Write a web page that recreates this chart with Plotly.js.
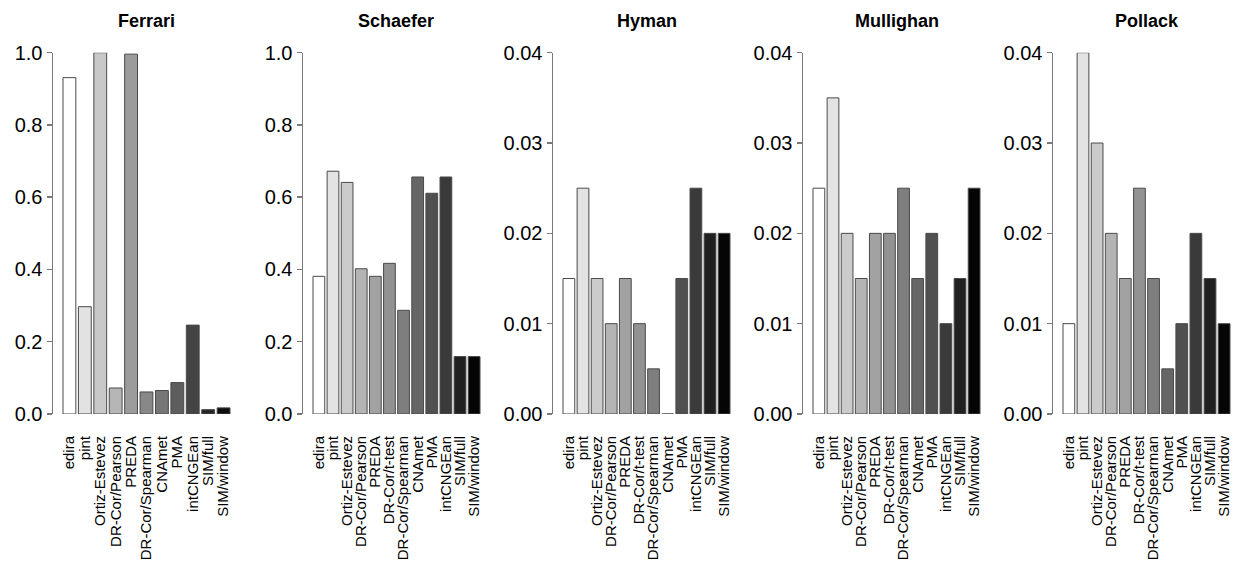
<!DOCTYPE html>
<html>
<head>
<meta charset="utf-8">
<script src="https://cdn.plot.ly/plotly-3.0.1.min.js"></script>
<style>html,body{margin:0;padding:0;background:#fff;}#chart{width:1237px;height:562px;}</style>
</head>
<body>
<div id="chart"></div>
<script>
// ---- Data ----
var methodsFerrari = ["edira", "pint", "Ortiz-Estevez", "DR-Cor/Pearson", "PREDA", "DR-Cor/Spearman", "CNAmet", "PMA", "intCNGEan", "SIM/full", "SIM/window"];
var methodsAll = ["edira", "pint", "Ortiz-Estevez", "DR-Cor/Pearson", "PREDA", "DR-Cor/t-test", "DR-Cor/Spearman", "CNAmet", "PMA", "intCNGEan", "SIM/full", "SIM/window"];

var ferrariValues   = [0.931, 0.297, 1.0, 0.072, 0.996, 0.061, 0.065, 0.087, 0.246, 0.012, 0.017];
var schaeferValues  = [0.381, 0.672, 0.641, 0.402, 0.381, 0.417, 0.287, 0.656, 0.611, 0.656, 0.159, 0.159];
var hymanValues     = [0.015, 0.025, 0.015, 0.010, 0.015, 0.010, 0.005, 0.0, 0.015, 0.025, 0.020, 0.020];
var mullighanValues = [0.025, 0.035, 0.020, 0.015, 0.020, 0.020, 0.025, 0.015, 0.020, 0.010, 0.015, 0.025];
var pollackValues   = [0.010, 0.040, 0.030, 0.020, 0.015, 0.025, 0.015, 0.005, 0.010, 0.020, 0.015, 0.010];

var panelTitles = ["Ferrari", "Schaefer", "Hyman", "Mullighan", "Pollack"];
var yMax = [1.0, 1.0, 0.04, 0.04, 0.04];
var yTicks = [[0, 0.2, 0.4, 0.6, 0.8, 1.0], [0, 0.2, 0.4, 0.6, 0.8, 1.0],
              [0, 0.01, 0.02, 0.03, 0.04], [0, 0.01, 0.02, 0.03, 0.04], [0, 0.01, 0.02, 0.03, 0.04]];
var yTickText = [["0.0", "0.2", "0.4", "0.6", "0.8", "1.0"], ["0.0", "0.2", "0.4", "0.6", "0.8", "1.0"],
                 ["0.00", "0.01", "0.02", "0.03", "0.04"], ["0.00", "0.01", "0.02", "0.03", "0.04"], ["0.00", "0.01", "0.02", "0.03", "0.04"]];

// ---- Styles ----
var grays11 = ["#ffffff", "#e2e2e2", "#c8c8c8", "#b6b6b6", "#9c9c9c", "#888888", "#767676", "#5e5e5e", "#444444", "#262626", "#0e0e0e"];
var grays12 = ["#ffffff", "#e3e3e3", "#cbcbcb", "#b4b4b4", "#a2a2a2", "#929292", "#7e7e7e", "#666666", "#505050", "#3a3a3a", "#202020", "#050505"];

var panels = [
  {cats: methodsFerrari, vals: ferrariValues, colors: grays11},
  {cats: methodsAll, vals: schaeferValues, colors: grays12},
  {cats: methodsAll, vals: hymanValues, colors: grays12},
  {cats: methodsAll, vals: mullighanValues, colors: grays12},
  {cats: methodsAll, vals: pollackValues, colors: grays12}
];

var W = 1237, H = 562;
var FONT = "Liberation Sans, Arial, Helvetica, sans-serif";
var gap = 0.167;
var traces = [];
var layout = {
  width: W, height: H, autosize: false,
  margin: {l: 0, r: 0, t: 0, b: 0, pad: 0},
  paper_bgcolor: "#ffffff", plot_bgcolor: "#ffffff",
  showlegend: false, bargap: gap,
  font: {family: FONT, color: "#000"},
  annotations: []
};

var yBottomPx = 414, yTopPx = 52.7;
for (var k = 0; k < panels.length; k++) {
  var p = panels[k];
  var n = p.cats.length;
  var x0 = 53 + 250 * k;
  var x1 = Math.min(240 + 250 * k, W);
  var u = 167 / (n - gap);
  var r0 = (-0.5 + gap / 2) - 10 / u;
  var r1 = r0 + (x1 - x0) / u;
  var sfx = k === 0 ? "" : String(k + 1);
  traces.push({
    type: "bar", x: p.cats, y: p.vals,
    xaxis: "x" + sfx, yaxis: "y" + sfx,
    marker: {color: p.colors, line: {color: "#4a4a4a", width: 1}},
    hoverinfo: "x+y"
  });
  layout["xaxis" + sfx] = {
    domain: [x0 / W, x1 / W], anchor: "y" + sfx,
    type: "category", range: [r0, r1],
    tickmode: "array", tickvals: p.cats, ticktext: p.cats,
    showline: false, showgrid: false, zeroline: false,
    ticks: "", tickangle: -90, ticklabelstandoff: 18,
    tickfont: {family: FONT, size: 15, color: "#000"},
    fixedrange: true
  };
  layout["yaxis" + sfx] = {
    domain: [1 - yBottomPx / H, 1 - yTopPx / H], anchor: "x" + sfx,
    range: [0, yMax[k]],
    showline: true, linecolor: "#7a7a7a", linewidth: 1.5,
    showgrid: false, zeroline: false,
    ticks: "outside", ticklen: 5, tickcolor: "#7a7a7a", tickwidth: 1.5,
    tickvals: yTicks[k], ticktext: yTickText[k],
    tickfont: {family: FONT, size: 20, color: "#000"},
    fixedrange: true
  };
  layout.annotations.push({
    text: "<b>" + panelTitles[k] + "</b>",
    xref: "paper", yref: "paper",
    x: (x0 + (240 + 250 * k)) / 2 / W, y: 1 - 21 / H,
    xanchor: "center", yanchor: "middle", showarrow: false,
    font: {family: FONT, size: 18, color: "#000"}
  });
}

Plotly.newPlot("chart", traces, layout, {displayModeBar: false, staticPlot: true});
</script>
</body>
</html>
